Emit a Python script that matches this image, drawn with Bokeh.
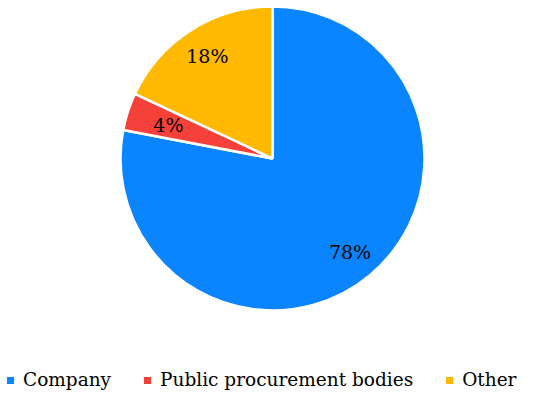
import math
from bokeh.plotting import figure
from bokeh.models import ColumnDataSource, Legend, LegendItem
from bokeh.core.properties import value
from bokeh.embed import file_html
from bokeh.resources import INLINE

categories = ["Company", "Public procurement bodies", "Other"]
shares = [78, 4, 18]
labels = ["78%", "4%", "18%"]
colors = ["#0A85FF", "#F5413A", "#FFB900"]

W, H = 534, 392
cx, cy, R = 272, 234, 152
label_r = [0.80, 0.72, 0.80]
FONT = "DejaVu Serif"

total = sum(shares)
starts, ends, lx, ly = [], [], [], []
cum = 0
for s, lr in zip(shares, label_r):
    a0 = math.pi / 2 - 2 * math.pi * cum / total
    cum += s
    a1 = math.pi / 2 - 2 * math.pi * cum / total
    starts.append(a0)
    ends.append(a1)
    mid = (a0 + a1) / 2
    lx.append(cx + lr * R * math.cos(mid))
    ly.append(cy + lr * R * math.sin(mid))

src = ColumnDataSource(dict(cat=categories, start=starts, end=ends, color=colors,
                            lx=lx, ly=ly, label=labels))

p = figure(width=W, height=H, x_range=(0, W), y_range=(0, H), output_backend="svg",
           toolbar_location=None, min_border=0)
p.axis.visible = False
p.grid.visible = False
p.outline_line_color = None

r = p.wedge(x=cx, y=cy, radius=R, start_angle="start", end_angle="end", direction="clock",
            fill_color="color", line_color="white", line_width=2.5, source=src)

p.text(x="lx", y="ly", text="label", source=src, text_align="center", text_baseline="middle",
       text_font=value(FONT), text_font_size="19px", text_color="#000000")

items = [LegendItem(label=c, renderers=[r], index=i) for i, c in enumerate(categories)]
legend = Legend(items=items, orientation="horizontal", location=(4, 2),
                label_text_font=FONT, label_text_font_size="18.5px", label_text_color="#000000",
                glyph_width=12, glyph_height=12, label_standoff=7, spacing=30,
                padding=0, margin=0, border_line_alpha=0, background_fill_alpha=0)
p.add_layout(legend)

open("out.html", "w").write(file_html(p, INLINE))
